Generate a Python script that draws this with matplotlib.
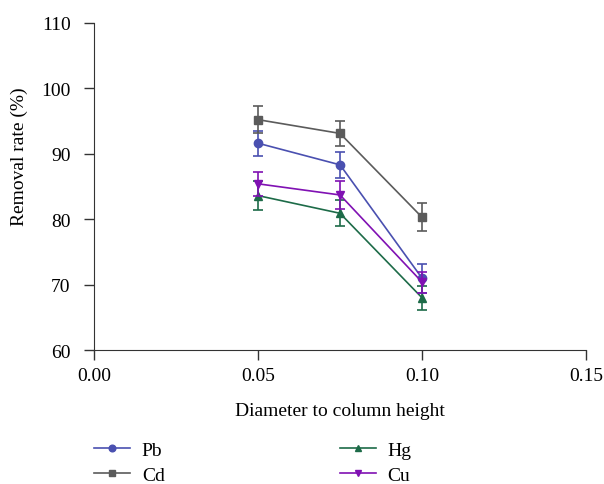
import matplotlib
matplotlib.use('Agg')
import matplotlib.pyplot as plt

plt.rcParams['font.family'] = ['Liberation Serif', 'DejaVu Serif']

ratio = [0.05, 0.075, 0.10]
pb = [91.6, 88.3, 71.0]
pb_err = [1.9, 2.0, 2.2]
cd = [95.2, 93.1, 80.3]
cd_err = [2.1, 1.9, 2.1]
hg = [83.6, 80.9, 68.0]
hg_err = [2.2, 2.0, 1.8]
cu = [85.4, 83.7, 70.4]
cu_err = [1.8, 2.1, 1.6]

series = [
    ('Pb', pb, pb_err, '#4a50b0', 'o'),
    ('Cd', cd, cd_err, '#5b5b5b', 's'),
    ('Hg', hg, hg_err, '#1d6b48', '^'),
    ('Cu', cu, cu_err, '#8011b3', 'v'),
]

fig = plt.figure(figsize=(6.04, 4.85), dpi=100)
ax = fig.add_axes([0.156, 0.276, 0.814, 0.675])

handles = []
for name, vals, err, col, mk in series:
    ax.errorbar(ratio, vals, yerr=err, color=col, fmt='none',
                elinewidth=1.2, capsize=3.5, capthick=1.2)
    h, = ax.plot(ratio, vals, color=col, marker=mk, markersize=6,
                 linewidth=1.2, label=name)
    handles.append(h)

ax.set_xlim(0, 0.15)
ax.set_ylim(60, 110)
ax.set_xticks([0.00, 0.05, 0.10, 0.15])
ax.set_xticklabels(['0.00', '0.05', '0.10', '0.15'])
ax.set_yticks([60, 70, 80, 90, 100, 110])
for s in ['top', 'right']:
    ax.spines[s].set_visible(False)
for s in ['left', 'bottom']:
    ax.spines[s].set_color('#333333')
ax.tick_params(direction='out', length=7, width=1, labelsize=14, color='#333333')
ax.tick_params(axis='y', pad=10)
ax.tick_params(axis='x', pad=5)
ax.set_xlabel('Diameter to column height', fontsize=14, labelpad=13)
ax.set_ylabel('Removal rate (%)', fontsize=14)
ax.yaxis.set_label_coords(-0.134, 0.593)

fig.legend(handles=handles, loc='lower left', bbox_to_anchor=(0.127, -0.036), ncol=2,
           frameon=False, fontsize=14, columnspacing=9.0, handlelength=1.85,
           handletextpad=0.6, labelspacing=0.4, markerscale=0.8)

plt.savefig('out.png', dpi=100)
